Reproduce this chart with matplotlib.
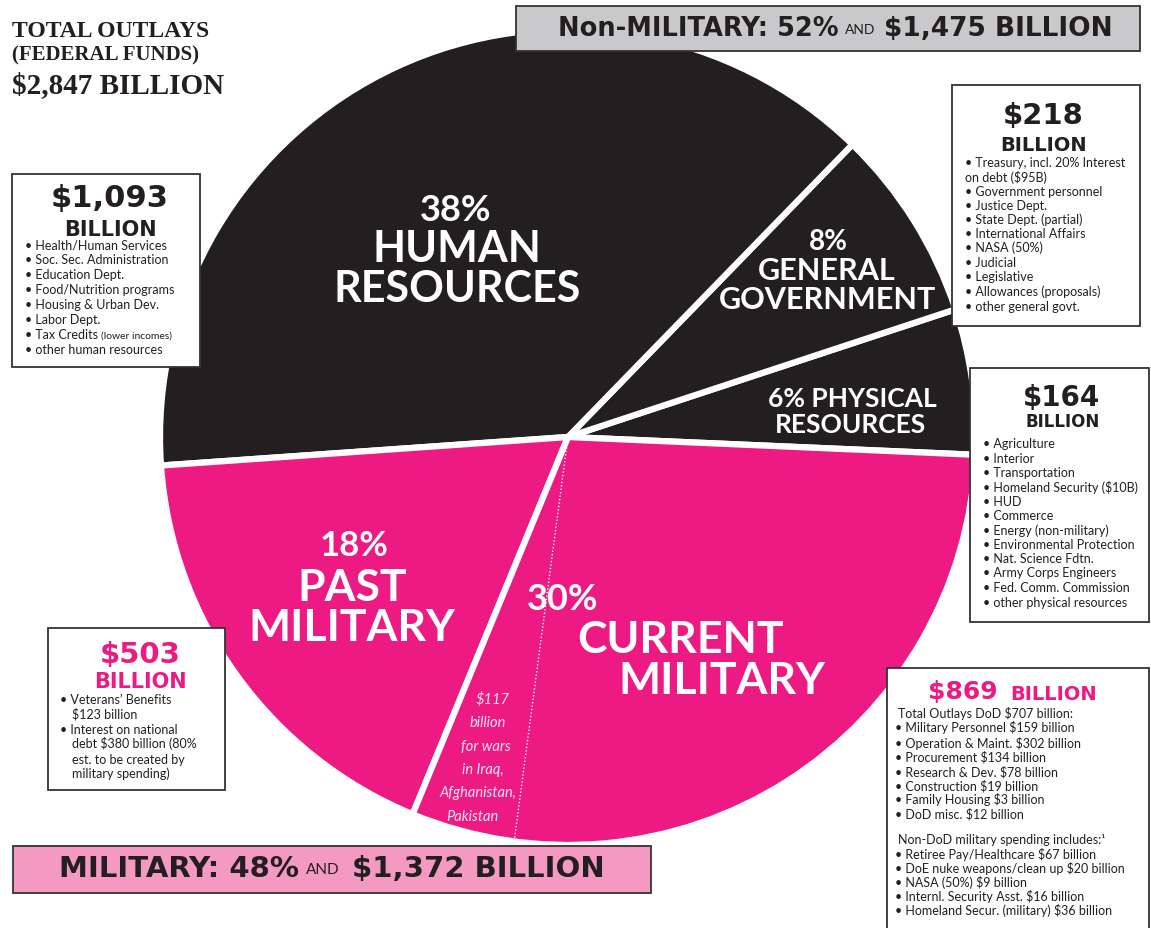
import numpy as np
import matplotlib.pyplot as plt
from matplotlib.patches import Rectangle

W, H = 1151, 929

# federal outlays, $ billion
categories = ['Physical Resources', 'General Government', 'Human Resources',
              'Past Military', 'Current Military']
outlays = [164, 218, 1093, 503, 869]
shares = [6, 8, 38, 18, 30]
war_funding = 117
total_outlays = 2847
military_total = 1372
nonmilitary_total = 1475
military_share = 48
nonmilitary_share = 52

human_items = ['• Health/Human Services', '• Soc. Sec. Administration', '• Education Dept.',
               '• Food/Nutrition programs', '• Housing & Urban Dev.', '• Labor Dept.',
               '• Tax Credits', '• other human resources']
general_items = ['• Treasury, incl. 20% Interest', 'on debt ($95B)', '• Government personnel',
                 '• Justice Dept.', '• State Dept. (partial)', '• International Affairs',
                 '• NASA (50%)', '• Judicial', '• Legislative', '• Allowances (proposals)',
                 '• other general govt.']
physical_items = ['• Agriculture', '• Interior', '• Transportation', '• Homeland Security ($10B)',
                  '• HUD', '• Commerce', '• Energy (non-military)', '• Environmental Protection',
                  '• Nat. Science Fdtn.', '• Army Corps Engineers', '• Fed. Comm. Commission',
                  '• other physical resources']
dod_items = ['• Military Personnel $159 billion', '• Operation & Maint. $302 billion',
             '• Procurement $134 billion', '• Research & Dev. $78 billion',
             '• Construction $19 billion', '• Family Housing $3 billion', '• DoD misc. $12 billion']
nondod_items = ['• Retiree Pay/Healthcare $67 billion', '• DoE nuke weapons/clean up $20 billion',
                '• NASA (50%) $9 billion', '• Internl. Security Asst. $16 billion',
                '• Homeland Secur. (military) $36 billion']
past_items = ['• Veterans’ Benefits', '$123 billion', '• Interest on national',
              'debt $380 billion (80%', 'est. to be created by', 'military spending)']
war_lines = ['$117', 'billion', 'for wars', 'in Iraq,', 'Afghanistan,', 'Pakistan']

BLACK = '#231f20'
MAGENTA = '#ec1a82'
PINK = '#f49ac2'
GRAY = '#c9c9cb'

fig = plt.figure(figsize=(W / 100, H / 100), dpi=100)
ax = fig.add_axes([0, 0, 1, 1])

cx, cy, r = 568, 438, 408
wedges, _ = ax.pie(outlays, colors=[BLACK, BLACK, BLACK, MAGENTA, MAGENTA],
                   startangle=2.5, counterclock=False, center=(cx, cy), radius=r,
                   wedgeprops=dict(edgecolor='white', linewidth=4.5))

# dotted split for the war funding inside current military
a = np.deg2rad(wedges[4].theta2 - 360 * war_funding / sum(outlays))
ax.plot([cx, cx + (r - 3) * np.cos(a)], [cy, cy + (r - 3) * np.sin(a)],
        color='white', lw=1, ls=(0, (1, 1.5)))

ax.set_xlim(0, W)
ax.set_ylim(H, 0)
ax.axis('off')

sans = 'Lato'
heavy = 'DejaVu Sans'


def txt(x, y, s, size, ha='center', color='white', family=sans, weight='bold', **kw):
    ax.text(x, y, s, fontsize=size, ha=ha, va='center', color=color,
            family=family, fontweight=weight, **kw)


# pie labels
txt(456, 210, f'{shares[2]}%', 26)
txt(457, 249, 'HUMAN', 31)
txt(457, 289, 'RESOURCES', 31)
txt(828, 242, f'{shares[1]}%', 20)
txt(827, 271, 'GENERAL', 22)
txt(828, 300, 'GOVERNMENT', 22)
txt(852, 399, f'{shares[0]}% PHYSICAL', 19)
txt(851, 425, 'RESOURCES', 19)
txt(354, 546, f'{shares[3]}%', 25)
txt(352, 588, 'PAST', 32)
txt(352, 628, 'MILITARY', 32)
txt(563, 599, f'{shares[4]}%', 26)
txt(681, 640, 'CURRENT', 32)
txt(722, 681, 'MILITARY', 32)
war_y = [700, 723, 747, 770, 793, 817]
war_x = [493, 488, 486, 483, 478, 472]
for s, x, y in zip(war_lines, war_x, war_y):
    txt(x, y, s, 10.5, weight='normal', style='italic', color='#fde6f0')

# title
txt(12, 31, 'TOTAL OUTLAYS', 17, ha='left', color=BLACK, family='Liberation Serif')
txt(12, 55, '(FEDERAL FUNDS)', 15, ha='left', color=BLACK, family='Liberation Serif')
txt(12, 86, f'${total_outlays:,} BILLION', 21, ha='left', color=BLACK, family='Liberation Serif')


def box(x0, y0, x1, y1, fc='white'):
    ax.add_patch(Rectangle((x0, y0), x1 - x0, y1 - y0, facecolor=fc,
                           edgecolor='#333333', lw=1.3, zorder=3))


def items(x, ys, lines, size=9, indent=None):
    for s, y in zip(lines, ys):
        xx = x
        if indent is not None and not s.startswith('•'):
            xx = indent
        ax.text(xx, y, s, fontsize=size, ha='left', va='center', color=BLACK,
                family=sans, zorder=4)


# human resources box
box(12, 175, 200, 368)
txt(110, 198, f'${outlays[2]:,}', 22, color=BLACK, family=heavy, zorder=4)
txt(110, 230, 'BILLION', 15, color=BLACK, family=heavy, zorder=4)
items(25, [245, 260, 275, 290, 305, 320, 335, 350], human_items)
ax.text(101, 336, '(lower incomes)', fontsize=7.5, ha='left', va='center',
        color=BLACK, family=sans, zorder=4)

# general government box
box(952, 86, 1140, 327)
txt(1043, 116, f'${outlays[1]}', 21, color=BLACK, family=heavy, zorder=4)
txt(1044, 145, 'BILLION', 14, color=BLACK, family=heavy, zorder=4)
items(965, [163, 177, 192, 206, 220, 234, 248, 263, 277, 292, 307], general_items)

# physical resources box
box(970, 369, 1149, 623)
txt(1062, 398, f'${outlays[0]}', 20, color=BLACK, family=heavy, zorder=4)
txt(1063, 422, 'BILLION', 12, color=BLACK, family=heavy, zorder=4)
items(983, [444, 459, 473, 488, 502, 516, 531, 545, 559, 573, 588, 603], physical_items)

# past military box
box(48, 629, 225, 791)
txt(140, 655, f'${outlays[3]}', 21, color=MAGENTA, family=heavy, zorder=4)
txt(140, 682, 'BILLION', 15, color=MAGENTA, family=heavy, zorder=4)
items(60, [700, 714, 730, 744, 760, 774], past_items, indent=72)

# current military box
box(887, 669, 1149, 940)
txt(928, 692, f'${outlays[4]}', 18, ha='left', color=MAGENTA, family=heavy, zorder=4)
txt(1010, 694, 'BILLION', 14, ha='left', color=MAGENTA, family=heavy, zorder=4)
ax.text(898, 714, 'Total Outlays DoD $707 billion:', fontsize=9, ha='left', va='center',
        color=BLACK, family=sans, zorder=4)
items(895, [728, 743, 757, 772, 786, 800, 814], dod_items)
ax.text(898, 840, 'Non-DoD military spending includes:¹', fontsize=9, ha='left',
        va='center', color=BLACK, family=sans, zorder=4)
items(895, [855, 869, 883, 897, 911], nondod_items)

# banners
box(516, 7, 1140, 52, fc=GRAY)
txt(839, 29, f'Non-MILITARY: {nonmilitary_share}%', 18.5, ha='right', color=BLACK,
    family=heavy, zorder=4)
txt(845, 30, 'AND', 10, ha='left', color=BLACK, weight='normal', zorder=4)
txt(884, 29, f'${nonmilitary_total:,} BILLION', 19, ha='left', color=BLACK,
    family=heavy, zorder=4)

box(13, 847, 651, 894, fc=PINK)
txt(299, 869, f'MILITARY: {military_share}%', 21, ha='right', color=BLACK,
    family=heavy, zorder=4)
txt(306, 870, 'AND', 11, ha='left', color=BLACK, weight='normal', zorder=4)
txt(352, 869, f'${military_total:,} BILLION', 21, ha='left', color=BLACK,
    family=heavy, zorder=4)

fig.savefig('out.png', dpi=100)
